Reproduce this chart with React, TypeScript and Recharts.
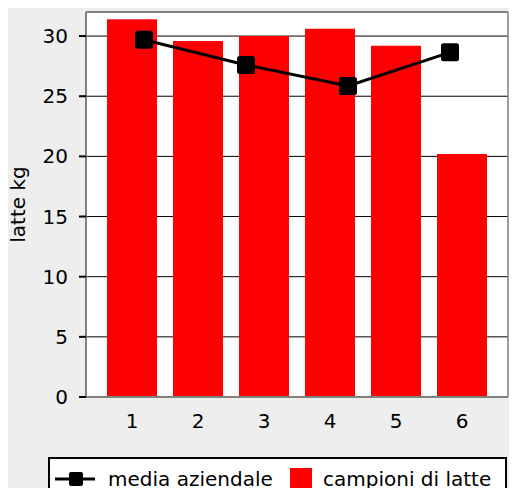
import React from 'react';
import {
  ComposedChart,
  Bar,
  Line,
  XAxis,
  YAxis,
  CartesianGrid,
  ReferenceLine,
} from 'recharts';

const categories = ['1', '2', '3', '4', '5', '6'];
const campioniDiLatte = [31.4, 29.6, 30.0, 30.6, 29.2, 20.2];
const mediaPositions = [1, 2, 3, 4];
const mediaAziendale = [29.7, 27.6, 25.85, 28.65];
const yTicks = [0, 5, 10, 15, 20, 25, 30];

const barData = categories.map((c, i) => ({ cat: c, campioni: campioniDiLatte[i] }));
const lineData = mediaPositions.map((x, i) => ({ x, media: mediaAziendale[i] }));

const FONT = '"DejaVu Sans", sans-serif';
const FS = 20;

const SquareDot = (props: any) => {
  const { cx, cy } = props;
  if (cx == null || cy == null) return <g />;
  return <rect x={cx - 9} y={cy - 9} width={18} height={18} rx={2.5} fill="#000" />;
};

const YLabel = (props: any) => {
  const vb = props.viewBox || {};
  const x = 18;
  const y = (vb.y ?? 12) + (vb.height ?? 385) / 2;
  return (
    <text
      x={x}
      y={y}
      transform={`rotate(-90 ${x} ${y})`}
      textAnchor="middle"
      dominantBaseline="central"
      fontSize={FS}
      fontFamily={FONT}
      fill="#000"
    >
      latte kg
    </text>
  );
};

const App = () => {
  const tickStyle = { fontSize: FS, fontFamily: FONT, fill: '#000' };
  return (
    <div style={{ margin: -8, width: 517, height: 496, background: '#eeeeee', position: 'relative', overflow: 'hidden', fontFamily: FONT }}>
      <ComposedChart
        width={517}
        height={496}
        data={barData}
        margin={{ top: 12, right: 0, bottom: 59, left: 0 }}
      >
        <CartesianGrid horizontal vertical={false} stroke="#000" strokeWidth={1} fill="#fff" yAxisId="left" />
        <XAxis
          xAxisId="bar"
          dataKey="cat"
          type="category"
          padding={{ left: 13, right: 13 }}
          height={40}
          tickLine={false}
          tickSize={0}
          tickMargin={17}
          axisLine={{ stroke: '#808080', strokeWidth: 2 }}
          tick={tickStyle}
          fontSize={FS}
        />
        <XAxis
          xAxisId="line"
          dataKey="x"
          type="number"
          domain={[1, 4]}
          padding={{ left: 58, right: 58 }}
          hide
        />
        <YAxis
          yAxisId="left"
          width={86}
          domain={[0, 32]}
          ticks={yTicks}
          interval={0}
          tickSize={7}
          tickMargin={11}
          tickLine={{ stroke: '#000', strokeWidth: 2 }}
          axisLine={{ stroke: '#808080', strokeWidth: 2 }}
          tick={tickStyle}
          fontSize={FS}
          label={<YLabel />}
        />
        <YAxis
          yAxisId="right"
          orientation="right"
          width={9}
          domain={[0, 32]}
          ticks={yTicks}
          interval={0}
          tickSize={7}
          tickLine={{ stroke: '#000', strokeWidth: 2 }}
          axisLine={{ stroke: '#808080', strokeWidth: 1.5 }}
          tick={() => <g />}
        />
        <ReferenceLine yAxisId="left" xAxisId="bar" y={32} stroke="#808080" strokeWidth={1.5} />
        <Bar
          xAxisId="bar"
          yAxisId="left"
          dataKey="campioni"
          fill="#ff0000"
          barSize={50}
          isAnimationActive={false}
        />
        <Line
          xAxisId="line"
          yAxisId="left"
          data={lineData}
          dataKey="media"
          stroke="#000"
          strokeWidth={3}
          dot={<SquareDot />}
          activeDot={false}
          isAnimationActive={false}
        />
      </ComposedChart>
      <div
        style={{
          position: 'absolute',
          left: 48,
          top: 457,
          width: 459,
          height: 60,
          background: '#fff',
          border: '2px solid #000',
          boxSizing: 'border-box',
        }}
      >
        <svg width={459} height={60} style={{ position: 'absolute', left: -2, top: -2 }}>
          <line x1={7} x2={47} y1={22} y2={22} stroke="#000" strokeWidth={3} />
          <rect x={21} y={15} width={14} height={14} rx={2} fill="#000" />
          <text x={60} y={22} dominantBaseline="central" fontSize={FS} fontFamily={FONT} fill="#000">
            media aziendale
          </text>
          <rect x={242} y={11} width={22} height={22} fill="#ff0000" />
          <text x={275} y={22} dominantBaseline="central" fontSize={FS} fontFamily={FONT} fill="#000">
            campioni di latte
          </text>
        </svg>
      </div>
    </div>
  );
};

export default App;
